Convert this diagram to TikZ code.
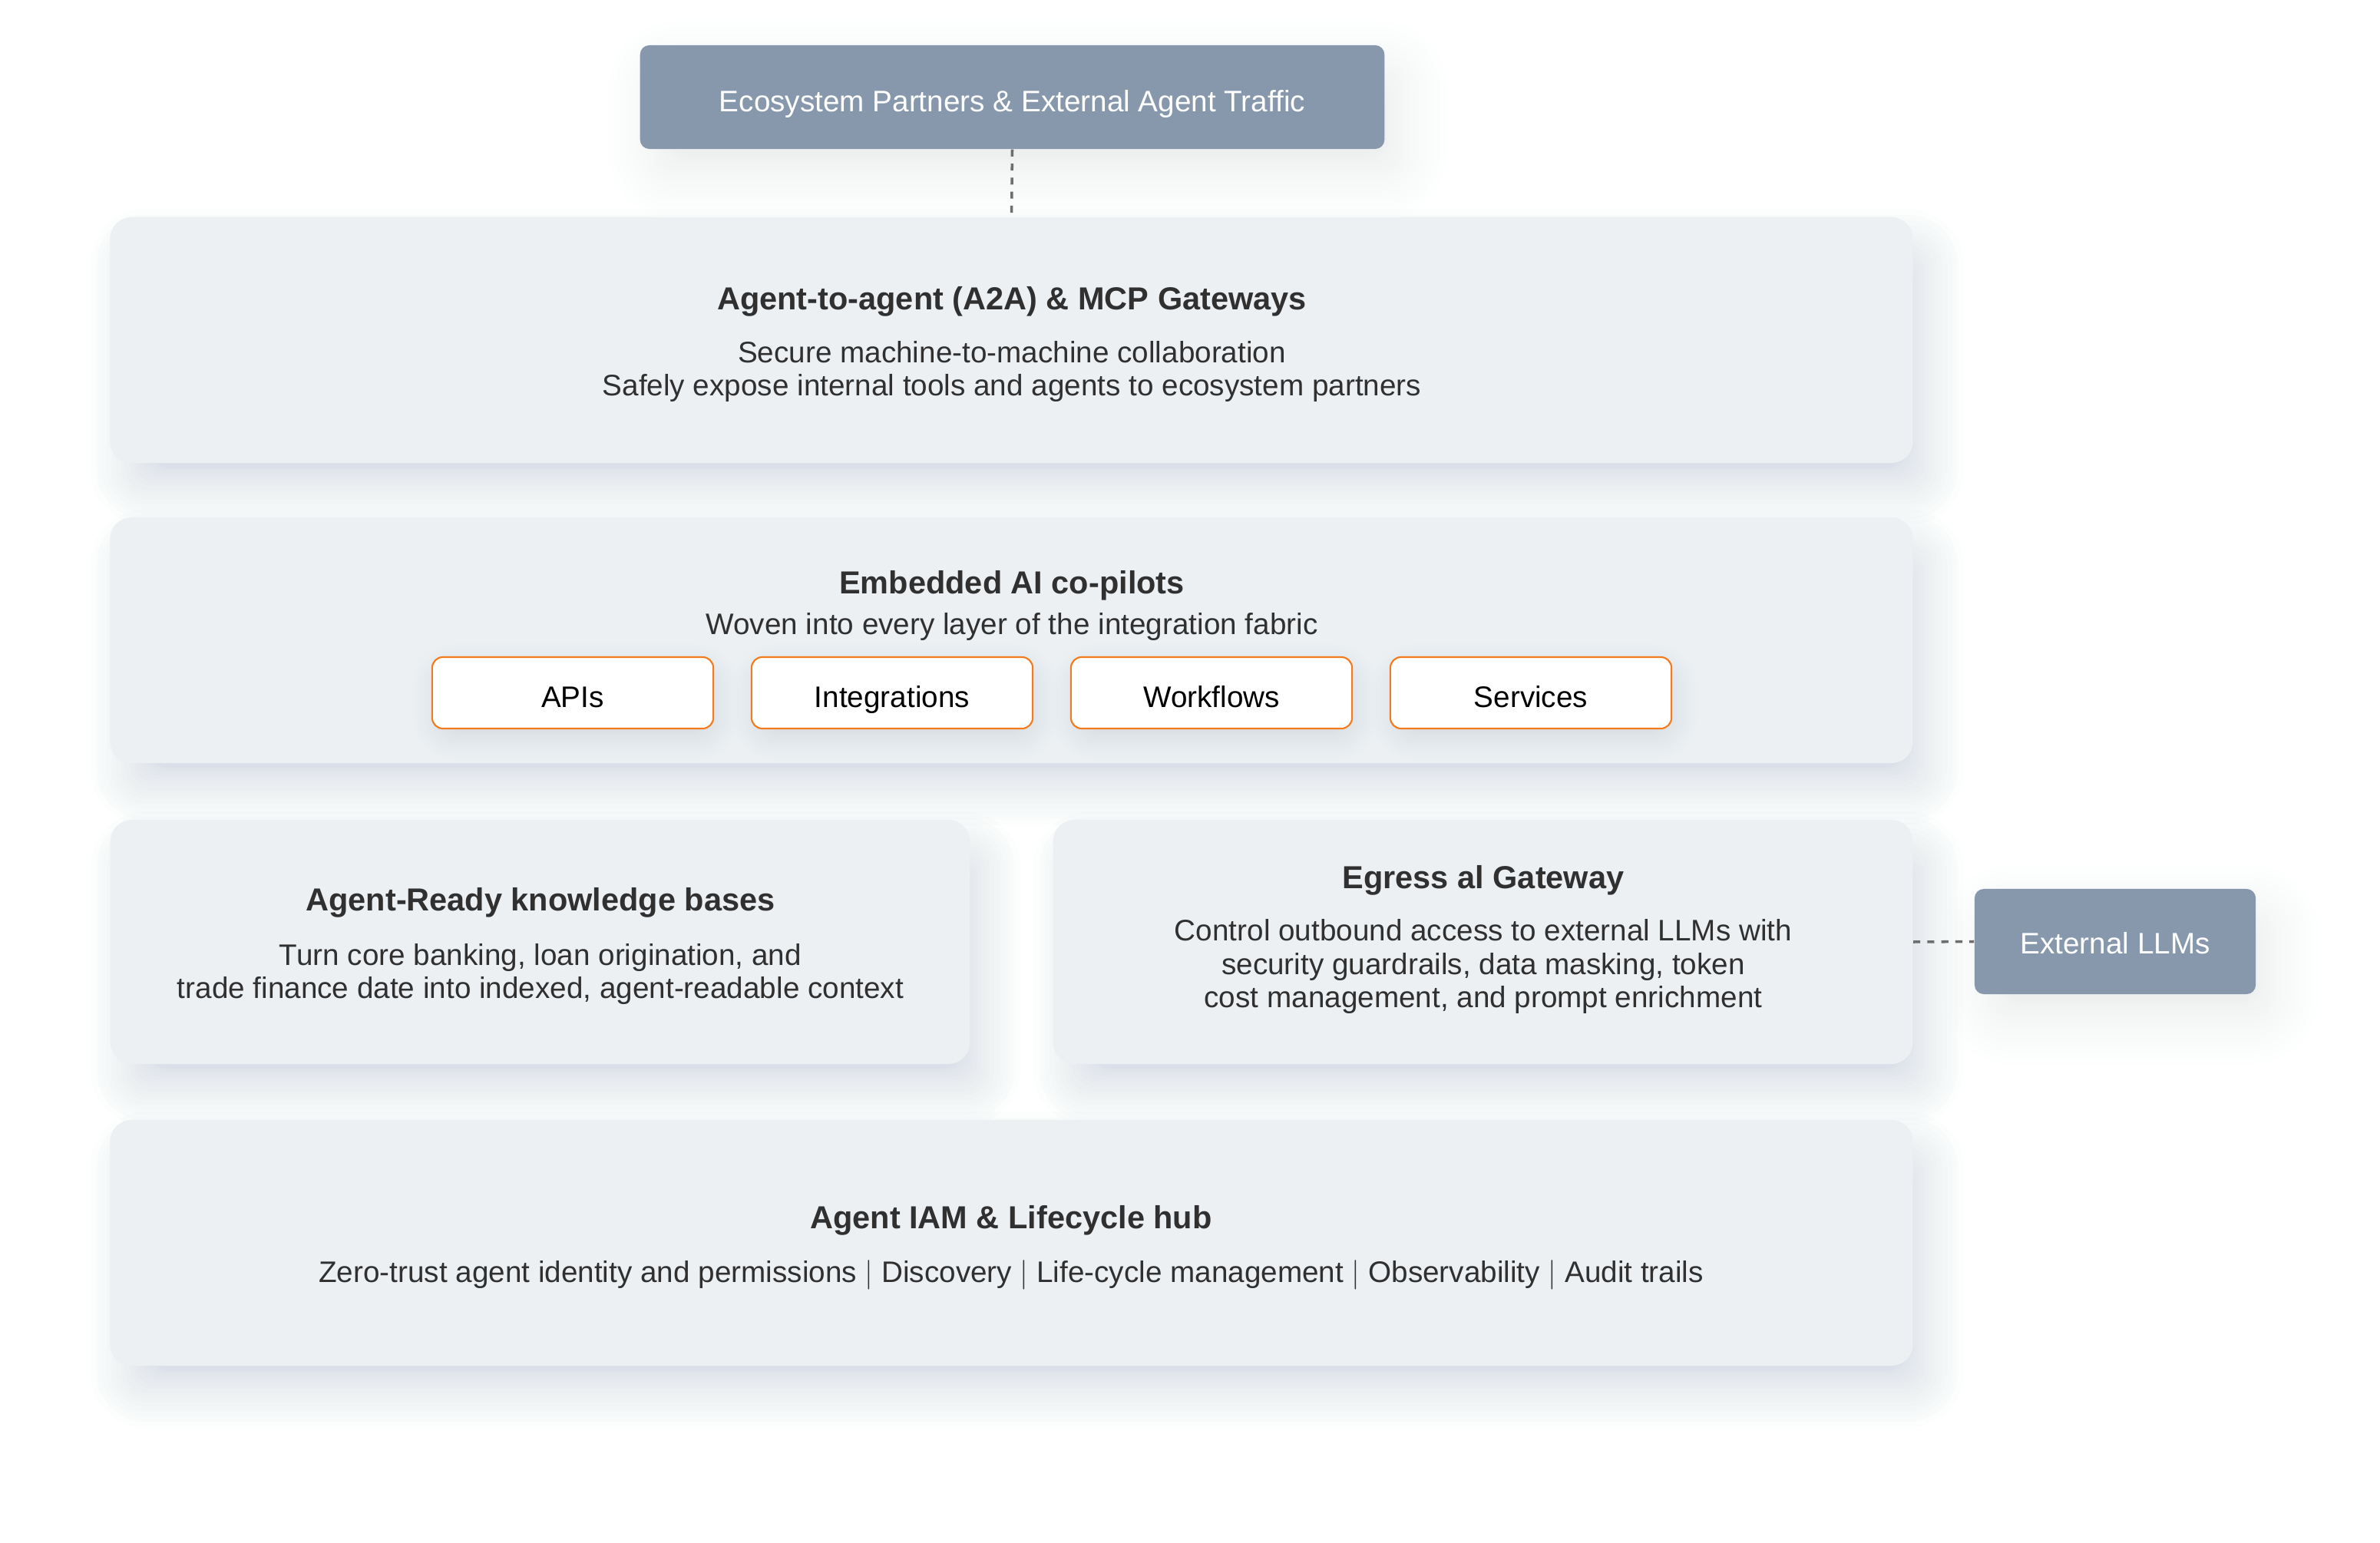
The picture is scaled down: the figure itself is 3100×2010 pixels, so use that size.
\documentclass[tikz,border=0pt]{standalone}
\usepackage{fontspec}
\setmainfont{Liberation Sans}
\usetikzlibrary{calc,backgrounds}
\pgfdeclarelayer{front}
\pgfsetlayers{background,main,front}
\definecolor{boxfill}{HTML}{EDF0F3}
\definecolor{slate}{HTML}{8798AD}
\definecolor{orng}{HTML}{F57A1C}
\definecolor{txt}{HTML}{303030}
\definecolor{shblue}{HTML}{B4C1D4}
\definecolor{shgray}{HTML}{BFC2C7}
\definecolor{dashc}{HTML}{6E6E6E}
\newcommand\bodyfont{\fontsize{11}{12.5}\selectfont}
\newcommand\chipfont{\fontsize{11}{13}\selectfont}
\newcommand\titlefont{\fontsize{11.8}{14}\selectfont\bfseries}
% node, colour, opacity per layer, x offset, y offset, blur (px), inner (px)
\newcommand\softshadow[7]{%
  \foreach \k in {0,...,15}{
    \pgfmathsetmacro\ee{-#7+(#6+#7)*(\k/15)^1.5}
    \pgfmathsetmacro\ax{#4-\ee}
    \pgfmathsetmacro\ay{#5-\ee}
    \pgfmathsetmacro\bx{#4+\ee}
    \pgfmathsetmacro\by{#5+\ee}
    \pgfmathsetmacro\rr{max(0.05,0.28+max(\ee,0)*0.01)}
    \fill[#2, opacity=#3, rounded corners=\rr cm]
      ($(#1.north west)+(\ax,\ay)$) rectangle ($(#1.south east)+(\bx,\by)$);
  }}
\tikzset{
  layerbox/.style={fill=boxfill, draw=none, rounded corners=0.28cm, minimum height=3.2cm, inner sep=0pt},
  partner/.style={fill=slate, draw=none, rounded corners=0.12cm, text=white, font=\bodyfont, inner sep=0pt, text depth=0.1em},
  chip/.style={fill=white, draw=orng, line width=0.6pt, rounded corners=0.14cm, minimum width=3.66cm, minimum height=0.93cm, font=\chipfont, text=black, inner sep=0pt, text height=1.2em, text depth=0.1em},
  ttl/.style={font=\titlefont, text=txt},
  body/.style={font=\bodyfont, text=txt, align=center},
  link/.style={draw=dashc, line width=1pt, dash pattern=on 2.6pt off 2.6pt},
}
\begin{document}
\begin{tikzpicture}[x=0.01cm, y=-0.01cm]
\useasboundingbox (0,0) rectangle (3100,2010);
\begin{pgfonlayer}{background}
  \fill[white] (0,0) rectangle (3100,2010);
\end{pgfonlayer}

% external boxes
\node[partner, text height=1.2em, minimum width=9.69cm, minimum height=1.35cm] (eco) at (1318.5,126.5) {Ecosystem Partners \& External Agent Traffic};
\node[partner, text height=1.02em, minimum width=3.66cm, minimum height=1.37cm] (ext) at (2755,1226.5) {External LLMs};

% layer boxes
\node[layerbox, minimum width=23.47cm] (a2a) at (1317.5,443) {};
\node[layerbox, minimum width=23.47cm] (emb) at (1317.5,834) {};
\node[layerbox, minimum width=11.19cm, minimum height=3.18cm] (kb) at (703.5,1227) {};
\node[layerbox, minimum width=11.19cm, minimum height=3.18cm] (egr) at (1931.5,1227) {};
\node[layerbox, minimum width=23.47cm] (iam) at (1317.5,1619) {};

% A2A text
\node[ttl] (a2aT) at (1318,393) {Agent-to-agent (A2A) \& MCP Gateways};
\node[body] (a2aB) at (1318,484) {Secure machine-to-machine collaboration\\Safely expose internal tools and agents to ecosystem partners};

% Embedded text
\node[ttl] (embT) at (1318,763) {Embedded AI co-pilots};
\node[body] (embB) at (1318,817) {Woven into every layer of the integration fabric};
\begin{pgfonlayer}{front}
\node[chip] (apis) at (746,902.5) {APIs};
\node[chip] (integ) at (1162,902.5) {Integrations};
\node[chip] (wf) at (1578,902.5) {Workflows};
\node[chip] (svc) at (1994,902.5) {Services};
\end{pgfonlayer}

% Knowledge bases
\node[ttl] (kbT) at (704,1176) {Agent-Ready knowledge bases};
\node[body] (kbB) at (704,1269) {Turn core banking, loan origination, and\\trade finance date into indexed, agent-readable context};

% Egress
\node[ttl] (egrT) at (1932,1147) {Egress al Gateway};
\node[body] (egrB) at (1932,1259) {Control outbound access to external LLMs with\\security guardrails, data masking, token\\cost management, and prompt enrichment};

% IAM
\node[ttl] (iamT) at (1317,1590) {Agent IAM \& Lifecycle hub};
\node[body] (iamB) at (1317,1661) {Zero-trust agent identity and permissions $|$ Discovery $|$ Life-cycle management $|$ Observability $|$ Audit trails};

% connectors
\draw[link] (eco.south) -- (a2a.north);
\draw[link] (egr.east) -- (ext.west);

% chip shadows (above layer box, below chips)
\foreach \c in {apis,integ,wf,svc}{
  \softshadow{\c}{shblue}{0.018}{4}{12}{28}{8}
}

% shadows
\begin{pgfonlayer}{background}
  \softshadow{a2a}{shblue}{0.032}{20}{35}{45}{30}
  \softshadow{emb}{shblue}{0.032}{20}{35}{45}{30}
  \softshadow{kb}{shblue}{0.032}{20}{35}{45}{30}
  \softshadow{egr}{shblue}{0.032}{20}{35}{45}{30}
  \softshadow{iam}{shblue}{0.032}{20}{35}{45}{30}
  \softshadow{eco}{shgray}{0.016}{20}{30}{60}{20}
  \softshadow{ext}{shgray}{0.016}{20}{30}{60}{20}
\end{pgfonlayer}
\end{tikzpicture}
\end{document}
